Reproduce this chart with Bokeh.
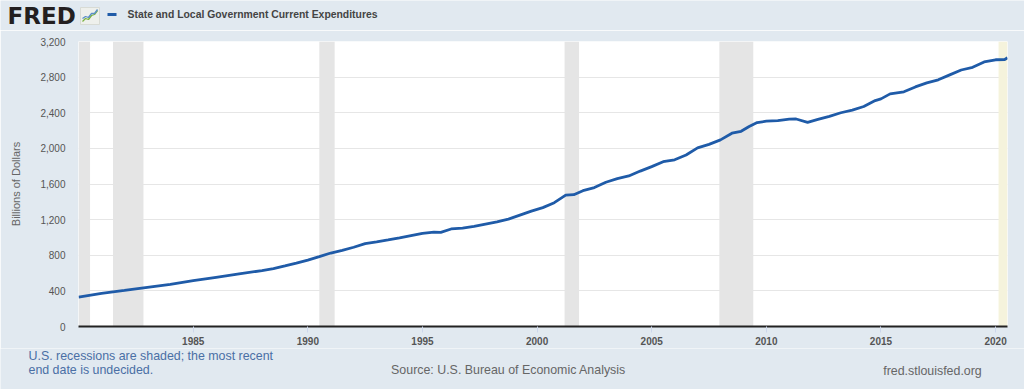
from bokeh.plotting import figure
from bokeh.layouts import column
from bokeh.models import Range1d, FixedTicker, NumeralTickFormatter, Label
from bokeh.embed import file_html
from bokeh.resources import INLINE

# ---- data ----
dates = [1980.0, 1981.0, 1982.0, 1983.0, 1984.0, 1985.0, 1986.0, 1987.0,
         1988.0, 1988.5, 1989.0, 1989.5, 1990.0, 1990.5, 1991.0, 1991.5,
         1992.0, 1992.5, 1993.0, 1993.5, 1994.0, 1994.5, 1995.0, 1995.5,
         1995.8, 1996.25, 1996.75, 1997.25, 1997.75, 1998.25, 1998.75,
         1999.25, 1999.75, 2000.25, 2000.75, 2001.25, 2001.6, 2002.0,
         2002.5, 2003.0, 2003.5, 2004.0, 2004.5, 2005.0, 2005.5, 2006.0,
         2006.5, 2007.0, 2007.5, 2008.0, 2008.5, 2008.9, 2009.25, 2009.6,
         2010.0, 2010.5, 2011.0, 2011.3, 2011.8, 2012.25, 2012.75, 2013.25,
         2013.75, 2014.25, 2014.75, 2015.0, 2015.4, 2016.0, 2016.5, 2017.0,
         2017.5, 2018.0, 2018.5, 2019.0, 2019.5, 2020.0, 2020.4, 2020.52]
values = [330, 372, 405, 440, 474, 514, 552, 590,
          628, 650, 680, 712, 746, 785, 825, 855,
          890, 930, 950, 972, 995, 1020, 1045, 1060,
          1057, 1095, 1105, 1125, 1150, 1175, 1205,
          1250, 1295, 1335, 1390, 1475, 1480, 1525,
          1560, 1620, 1660, 1690, 1745, 1795, 1850, 1872,
          1925, 2005, 2045, 2095, 2170, 2192, 2245, 2290,
          2305, 2312, 2328, 2330, 2293, 2325, 2360, 2400,
          2430, 2470, 2537, 2556, 2612, 2635, 2690, 2735,
          2770, 2825, 2880, 2910, 2970, 2995, 2998, 3017]

rec_start = [1980.0, 1981.5, 1990.5, 2001.2, 2007.95]
rec_end = [1980.5, 1982.83, 1991.17, 2001.83, 2009.43]
open_rec_start = [2020.13]
open_rec_end = [2020.52]

x_ticks = [1985, 1990, 1995, 2000, 2005, 2010, 2015, 2020]
y_ticks = [0, 400, 800, 1200, 1600, 2000, 2400, 2800, 3200]

title_text = "State and Local Government Current Expenditures"
y_label = "Billions of Dollars"
note1 = "U.S. recessions are shaded; the most recent"
note2 = "end date is undecided."
source = "Source: U.S. Bureau of Economic Analysis"
site = "fred.stlouisfed.org"

BG = "#e1e9f0"
LINE = "#1f5ba8"
FONT = "Liberation Sans"
W = 1024
HEAD_H = 30
FOOT_H = 41
MAIN_H = 389 - HEAD_H - FOOT_H


def strip(h):
    f = figure(width=W, height=h, output_backend="svg", toolbar_location=None,
               x_range=Range1d(0, W), y_range=Range1d(0, h),
               x_axis_type=None, y_axis_type=None,
               min_border_left=0, min_border_right=0, min_border_top=0,
               min_border_bottom=0, frame_align=False)
    f.background_fill_color = BG
    f.border_fill_color = BG
    f.outline_line_color = None
    return f


def lab(f, h, top, text, X, Y, size, color, bold=False, align="left",
        font=FONT):
    f.add_layout(Label(x=X, y=h - (Y - top), text=text, text_font=font,
                       text_font_size=size, text_color=color,
                       text_align=align, text_baseline="middle",
                       text_font_style="bold" if bold else "normal"))


# ---- header ----
head = strip(HEAD_H)
lab(head, HEAD_H, 0, "FRED", 7, 15, "23px", "#231f20", bold=True,
    font="DejaVu Sans")
lab(head, HEAD_H, 0, title_text, 127, 14, "10.4px", "#444444", bold=True)
# logo icon
head.quad(left=[80], right=[99], top=[HEAD_H - 7], bottom=[HEAD_H - 24],
          fill_color="#eef0ec", line_color="#d8dbd5")
head.line([82, 85, 88, 91, 94, 97], [HEAD_H - v for v in [21, 18, 19, 15, 14, 10]],
          line_color="#7cb342", line_width=1.3)
head.line([82, 85, 88, 91, 94, 97], [HEAD_H - v for v in [18, 16, 17, 13, 13, 9]],
          line_color="#5b8fc7", line_width=1.3)
# legend swatch
head.line([107, 116], [HEAD_H - 14, HEAD_H - 14], line_color=LINE, line_width=3)

# ---- main chart ----
p = figure(width=W, height=MAIN_H, output_backend="svg", toolbar_location=None,
           x_range=Range1d(1979.996, 2020.52), y_range=Range1d(0, 3200),
           min_border_left=78, min_border_right=17, min_border_top=41 - HEAD_H,
           min_border_bottom=HEAD_H + MAIN_H - 326, frame_align=False)
p.background_fill_color = "white"
p.border_fill_color = BG
p.outline_line_color = None

p.quad(left=rec_start, right=rec_end, bottom=0, top=3200,
       fill_color="#e5e5e5", line_color=None)
p.quad(left=open_rec_start, right=open_rec_end, bottom=0, top=3200,
       fill_color="#f5f3dc", line_color=None)
p.line(dates, values, line_color=LINE, line_width=2.8)

p.xgrid.grid_line_color = None
p.ygrid.grid_line_color = "#e6e6e6"
p.ygrid.grid_line_width = 1

p.xaxis.ticker = FixedTicker(ticks=x_ticks)
p.xaxis.axis_line_color = "#222222"
p.xaxis.axis_line_width = 2
p.xaxis.major_tick_line_color = "#ccd6eb"
p.xaxis.major_tick_out = 6
p.xaxis.major_tick_in = 0
p.xaxis.minor_tick_line_color = None
p.xaxis.major_label_text_font = FONT
p.xaxis.major_label_text_font_size = "10px"
p.xaxis.major_label_text_font_style = "bold"
p.xaxis.major_label_text_color = "#555555"
p.xaxis.major_label_standoff = 4

p.yaxis.ticker = FixedTicker(ticks=y_ticks)
p.yaxis.formatter = NumeralTickFormatter(format="0,0")
p.yaxis.axis_line_color = None
p.yaxis.major_tick_line_color = None
p.yaxis.minor_tick_line_color = None
p.yaxis.major_tick_out = 0
p.yaxis.major_tick_in = 0
p.yaxis.major_label_text_font = FONT
p.yaxis.major_label_text_font_size = "10px"
p.yaxis.major_label_text_color = "#555555"
p.yaxis.major_label_standoff = 13
p.yaxis.axis_label = y_label
p.yaxis.axis_label_text_font = FONT
p.yaxis.axis_label_text_font_size = "11px"
p.yaxis.axis_label_text_font_style = "normal"
p.yaxis.axis_label_text_color = "#666666"
p.yaxis.axis_label_standoff = 15

# ---- footer ----
foot = strip(FOOT_H)
top = HEAD_H + MAIN_H
lab(foot, FOOT_H, top, note1, 28, 355, "12.4px", "#4a6fa5")
lab(foot, FOOT_H, top, note2, 28, 369, "12.4px", "#4a6fa5")
lab(foot, FOOT_H, top, source, 508, 369, "12.4px", "#666666", align="center")
lab(foot, FOOT_H, top, site, 932, 370, "12.4px", "#666666", align="center")

layout = column(head, p, foot, spacing=0)
html = file_html(layout, INLINE)
html = html.replace("<body>", '<body style="background:%s;">' % BG, 1)
open("out.html", "w").write(html)
